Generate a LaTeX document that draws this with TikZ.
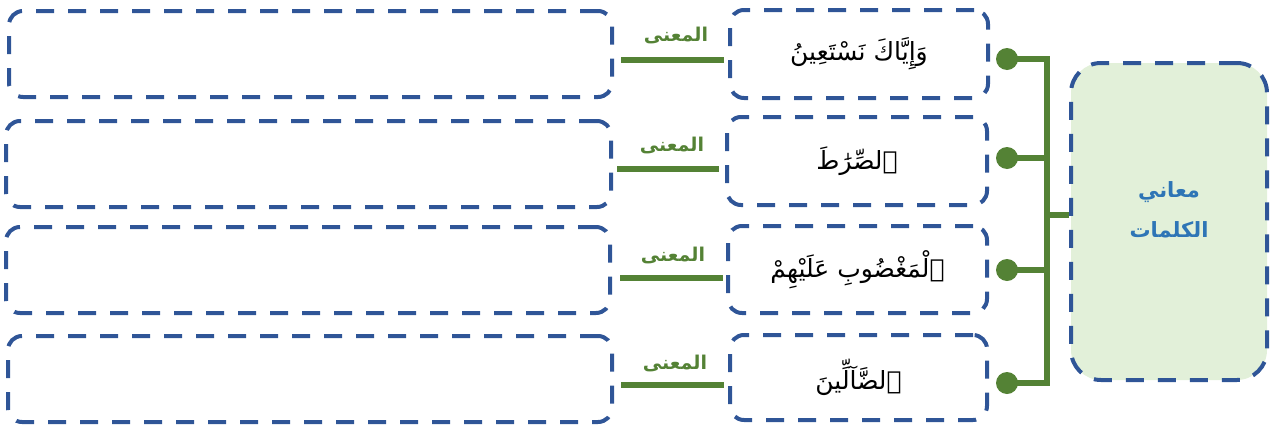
\documentclass[tikz,border=0pt]{standalone}
\usepackage{fontspec}
\TeXXeTstate=1
\newfontfamily\arabicfont[Script=Arabic]{DejaVu Sans}
\usetikzlibrary{calc}
\definecolor{boxblue}{HTML}{2F5597}
\definecolor{lgreen}{HTML}{548235}
\definecolor{pale}{HTML}{E2F0D9}
\definecolor{tblue}{HTML}{2E75B6}
\tikzset{
  dbox/.style={draw=boxblue, line width=4pt, dash pattern=on 18pt off 14pt, rounded corners=14pt, inner sep=0pt},
  leftbox/.style={dbox, minimum height=86pt},
  wordbox/.style={dbox, minimum height=87pt, minimum width=258pt, font=\arabicfont\fontsize{25}{30}\selectfont},
  rbox/.style={dbox, rounded corners=30pt, fill=pale, minimum width=196pt, minimum height=317pt},
  rtext/.style={align=center, text=tblue, inner sep=0pt, font=\arabicfont\bfseries\fontsize{21}{40}\selectfont},
  gline/.style={draw=lgreen, line width=5.5pt},
  mlabel/.style={text=lgreen, font=\arabicfont\bfseries\fontsize{19}{22}\selectfont, inner sep=0pt},
  gdot/.style={fill=lgreen}
}
\begin{document}
\begin{tikzpicture}[x=1pt,y=-1pt]
\useasboundingbox (0,0) rectangle (1272,426);
% left boxes
\node[leftbox, minimum width=603pt] (l1) at (310.5,54) {};
\node[leftbox, minimum width=605pt] (l2) at (308.5,164) {};
\node[leftbox, minimum width=604pt] (l3) at (308,270) {};
\node[leftbox, minimum width=604pt] (l4) at (310,379) {};
% word boxes
\node[wordbox, minimum height=88pt] (w1) at (859,54) {\beginR وَإِيَّاكَ نَسْتَعِينُ\endR};
\node[wordbox, minimum height=88pt, minimum width=260pt] (w2) at (857,161) {\beginR ٱلصِّرَٰطَ\endR};
\node[wordbox, minimum width=259pt] (w3) at (857.5,269.5) {\beginR ٱلْمَغْضُوبِ عَلَيْهِمْ\endR};
\node[wordbox, minimum height=85pt, minimum width=257pt] (w4) at (858.5,377.5) {\beginR ٱلضَّآلِّينَ\endR};
% right box
\node[rbox] (r) at (1169,221.5) {};
\node[rtext] (rt) at (1169,210) {\beginR معاني\endR\\\beginR الكلمات\endR};
% meaning labels and lines
\node[mlabel] (m1) at (676,35) {\beginR المعنى\endR};
\node[mlabel] (m2) at (672,145) {\beginR المعنى\endR};
\node[mlabel] (m3) at (673,255) {\beginR المعنى\endR};
\node[mlabel] (m4) at (675,363) {\beginR المعنى\endR};
\coordinate (a1) at (621,60);  \coordinate (b1) at (724,60);
\coordinate (a2) at (617,169); \coordinate (b2) at (719,169);
\coordinate (a3) at (620,278); \coordinate (b3) at (723,278);
\coordinate (a4) at (621,385); \coordinate (b4) at (724,385);
\foreach \i in {1,2,3,4} {\draw[gline] (a\i) -- (b\i);}
% bus connectors
\coordinate (bus) at (1047,215);
\coordinate (d1) at (1007,59);
\coordinate (d2) at (1007,158);
\coordinate (d3) at (1007,270);
\coordinate (d4) at (1007,383);
\draw[gline] (bus) -- (bus -| r.west);
\foreach \i in {1,2,3,4} {\draw[gline] (bus) |- (d\i);}
\foreach \i in {1,2,3,4} {\fill[gdot] (d\i) circle (11pt);}
\end{tikzpicture}
\end{document}
